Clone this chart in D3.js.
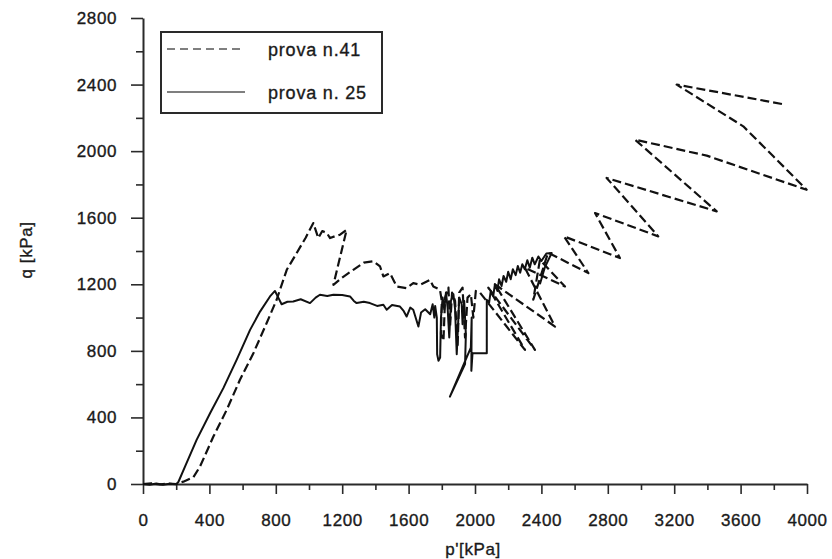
<!DOCTYPE html>
<html>
<head>
<meta charset="utf-8">
<script src="https://cdn.jsdelivr.net/npm/d3@7/dist/d3.min.js"></script>
<style>
  html, body { margin: 0; padding: 0; background: #fff; }
  svg { display: block; }
  text { font-family: "Liberation Sans", Arial, sans-serif; fill: #1a1a1a; }
</style>
</head>
<body>
<svg id="chart" width="832" height="559"></svg>
<script>
// Tick values
const xTicks = [0, 400, 800, 1200, 1600, 2000, 2400, 2800, 3200, 3600, 4000];
const yTicks = [0, 400, 800, 1200, 1600, 2000, 2400, 2800];
const xMinor = [200, 600, 1000, 1400, 1800, 2200, 2600, 3000, 3400, 3800];
const yMinor = [200, 600, 1000, 1400, 1800, 2200, 2600];

// Series labels
const seriesNames = ["prova n.41", "prova n. 25"];

// prova n.41 : [p' (kPa), q (kPa)]
const prova41 = [
  [0, 0], [50, 4], [100, -3], [150, 3], [200, 0], [243, 14], [303, 40], [343, 104],
  [424, 285], [504, 445], [584, 626], [665, 786], [745, 967], [805, 1107], [866, 1287],
  [926, 1388], [980, 1480], [1026, 1568], [1056, 1478], [1080, 1520], [1107, 1508],
  [1127, 1478], [1160, 1490], [1187, 1498], [1227, 1528], [1147, 1197], [1200, 1240],
  [1267, 1287], [1330, 1330], [1388, 1338], [1428, 1307], [1448, 1247], [1488, 1267],
  [1528, 1187], [1588, 1177], [1628, 1207], [1669, 1197], [1729, 1227], [1749, 1187],
  [1789, 1167], [1800, 1100], [1795, 900], [1810, 860], [1820, 1120], [1840, 1180],
  [1850, 950], [1862, 1150], [1880, 1100], [1895, 820], [1905, 1150], [1925, 1180],
  [1940, 880], [1955, 1120], [1975, 1140], [1990, 1000], [2005, 1160], [2030, 1150],
  [2301, 806], [2080, 1180], [2361, 806], [2120, 1200], [2482, 946], [2300, 1300],
  [2542, 1187], [2391, 1347], [2351, 1107], [2440, 1390], [2683, 1267], [2536, 1488],
  [2873, 1358], [2723, 1628], [3104, 1488], [2793, 1839], [3456, 1638], [2964, 2069],
  [3396, 1973], [3998, 1768], [3797, 1969], [3616, 2149], [3215, 2400], [3867, 2280]
];

// prova n. 25 : [p' (kPa), q (kPa)]
const prova25 = [
  [0, 0], [40, -5], [80, 3], [120, -4], [160, 2], [200, -2], [213, 12], [253, 104],
  [323, 265], [404, 425], [484, 576], [564, 746], [645, 926], [705, 1036], [765, 1127],
  [795, 1160], [815, 1120], [835, 1080], [870, 1095], [905, 1097], [950, 1110],
  [1006, 1087], [1040, 1120], [1066, 1137], [1110, 1130], [1147, 1137], [1200, 1135],
  [1247, 1127], [1270, 1100], [1287, 1087], [1330, 1095], [1367, 1087], [1410, 1070],
  [1448, 1077], [1468, 1047], [1500, 1075], [1548, 1066], [1570, 1040], [1588, 1006],
  [1610, 1060], [1628, 1047], [1659, 946], [1675, 1030], [1700, 1050], [1730, 1020],
  [1745, 1080], [1755, 1000], [1760, 1070], [1770, 1000], [1772, 780], [1780, 740],
  [1790, 760], [1795, 1000], [1805, 1120], [1815, 1050], [1825, 1150], [1835, 1060],
  [1845, 880], [1855, 1100], [1870, 1140], [1880, 1050], [1890, 780], [1900, 1000],
  [1905, 1120], [1920, 1080], [1925, 960], [1935, 1100], [1945, 900], [1940, 720],
  [1849, 525], [1975, 820], [1980, 1000], [1978, 680], [1985, 786], [2071, 786],
  [2071, 1107], [2085, 1090], [2095, 1160], [2110, 1130], [2120, 1200], [2135, 1160],
  [2145, 1230], [2160, 1190], [2172, 1250], [2188, 1215], [2200, 1275], [2215, 1230],
  [2228, 1290], [2245, 1255], [2258, 1310], [2272, 1270], [2285, 1320], [2300, 1290],
  [2315, 1345], [2330, 1300], [2345, 1360], [2360, 1320], [2382, 1367], [2400, 1340],
  [2430, 1385], [2462, 1388], [2420, 1300], [2391, 1200]
];

const svg = d3.select("#chart");

const x = d3.scaleLinear().domain([0, 4000]).range([143, 807]);
const y = d3.scaleLinear().domain([0, 2800]).range([484, 18]);

const axisColor = "#2a2a2a";
const fmt = d3.format("d");

// Axes with major ticks and labels
const gx = svg.append("g")
  .attr("transform", `translate(0,${y(0)})`)
  .call(d3.axisBottom(x).tickValues(xTicks).tickFormat(fmt).tickSize(10).tickPadding(20).tickSizeOuter(0));
const gy = svg.append("g")
  .attr("transform", `translate(${x(0)},0)`)
  .call(d3.axisLeft(y).tickValues(yTicks).tickFormat(fmt).tickSize(12).tickPadding(14).tickSizeOuter(0));

[gx, gy].forEach(g => {
  g.select(".domain").attr("stroke", axisColor).attr("stroke-width", 2);
  g.selectAll(".tick line").attr("stroke", axisColor).attr("stroke-width", 1.6);
  g.selectAll(".tick text")
    .attr("font-size", 17)
    .attr("letter-spacing", "0.6px")
    .attr("fill", "#1a1a1a")
    .attr("stroke", "#1a1a1a")
    .attr("stroke-width", 0.35)
    .style("font-family", "'Liberation Sans', Arial, sans-serif");
});

// Minor ticks
svg.append("g")
  .attr("transform", `translate(0,${y(0)})`)
  .call(d3.axisBottom(x).tickValues(xMinor).tickSize(6).tickFormat(""))
  .call(g => g.select(".domain").remove())
  .call(g => g.selectAll(".tick line").attr("stroke", axisColor).attr("stroke-width", 1.6));
svg.append("g")
  .attr("transform", `translate(${x(0)},0)`)
  .call(d3.axisLeft(y).tickValues(yMinor).tickSize(7).tickFormat(""))
  .call(g => g.select(".domain").remove())
  .call(g => g.selectAll(".tick line").attr("stroke", axisColor).attr("stroke-width", 1.6));

// Axis titles
svg.append("text")
  .attr("x", 473).attr("y", 555)
  .attr("text-anchor", "middle")
  .attr("font-size", 17)
  .attr("letter-spacing", "0.6px")
  .attr("stroke", "#1a1a1a").attr("stroke-width", 0.35)
  .text("p'[kPa]");
svg.append("text")
  .attr("transform", "translate(32,250) rotate(-90)")
  .attr("text-anchor", "middle")
  .attr("font-size", 17)
  .attr("letter-spacing", "0.6px")
  .attr("stroke", "#1a1a1a").attr("stroke-width", 0.35)
  .text("q [kPa]");

// Curves
const line = d3.line().x(d => x(d[0])).y(d => y(d[1]));

svg.append("path")
  .datum(prova25)
  .attr("d", line)
  .attr("fill", "none")
  .attr("stroke", "#111")
  .attr("stroke-width", 2)
  .attr("stroke-linejoin", "round");

svg.append("path")
  .datum(prova41)
  .attr("d", line)
  .attr("fill", "none")
  .attr("stroke", "#111")
  .attr("stroke-width", 2.2)
  .attr("stroke-dasharray", "9,4")
  .attr("stroke-linejoin", "round");

// Legend
const legend = svg.append("g");
legend.append("rect")
  .attr("x", 161).attr("y", 32).attr("width", 221).attr("height", 81)
  .attr("fill", "#fff").attr("stroke", axisColor).attr("stroke-width", 2);
legend.append("line")
  .attr("x1", 167).attr("x2", 245).attr("y1", 49).attr("y2", 49)
  .attr("stroke", "#555").attr("stroke-width", 1.6).attr("stroke-dasharray", "8,5");
legend.append("line")
  .attr("x1", 167).attr("x2", 245).attr("y1", 92).attr("y2", 92)
  .attr("stroke", "#555").attr("stroke-width", 1.6);
legend.selectAll("text.lab")
  .data(seriesNames)
  .enter().append("text")
  .attr("class", "lab")
  .attr("x", 268)
  .attr("y", (d, i) => 56 + i * 43)
  .attr("font-size", 18)
  .attr("letter-spacing", "0.8px")
  .attr("stroke", "#1a1a1a").attr("stroke-width", 0.35)
  .text(d => d);
</script>
</body>
</html>
